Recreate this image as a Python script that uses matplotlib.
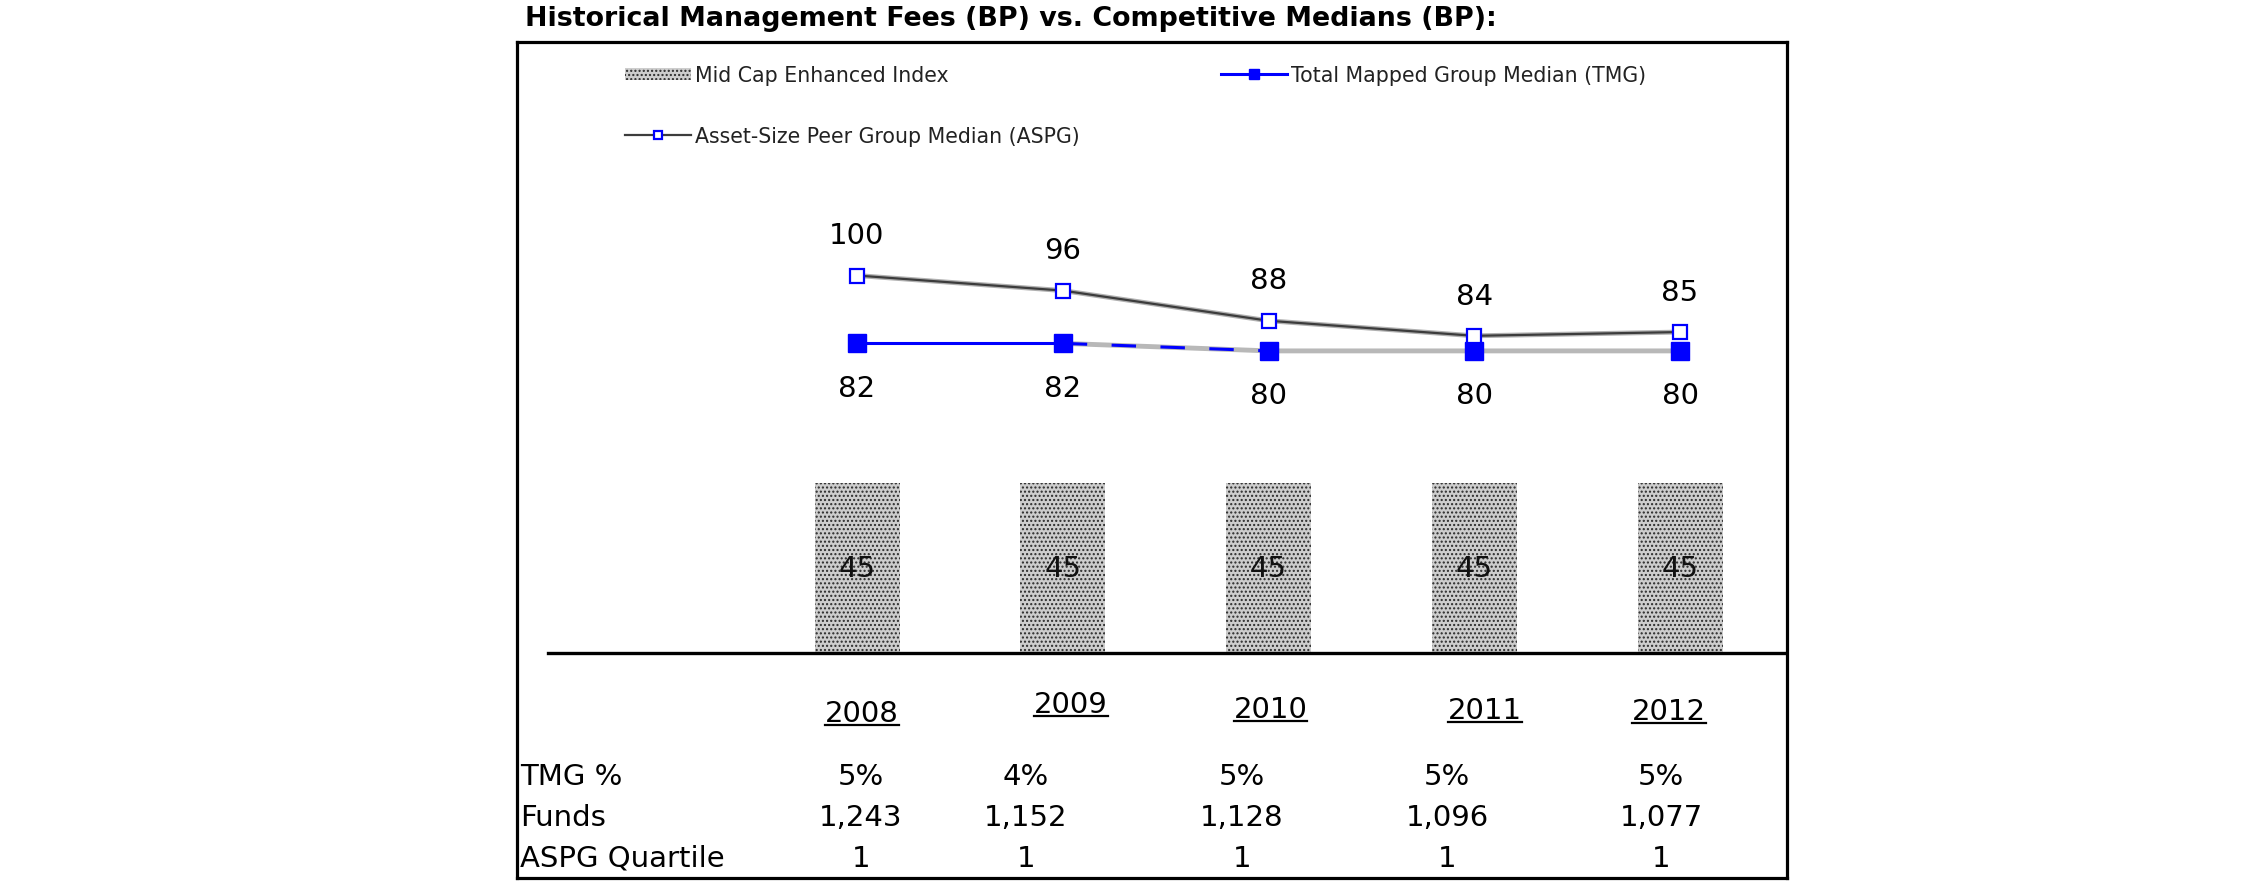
"""Historical management fees vs competitive medians (BP) -> out.png"""

import matplotlib
matplotlib.use("Agg")
import matplotlib.pyplot as plt
from matplotlib.lines import Line2D
from matplotlib.transforms import IdentityTransform, blended_transform_factory
import numpy as np

plt.rcParams["font.family"] = ["DejaVu Sans"]
plt.rcParams["hatch.linewidth"] = 1.0

# ── Data ──────────────────────────────────────────────────────────────
YEARS = ["2008", "2009", "2010", "2011", "2012"]
INDEX_FEE = [45, 45, 45, 45, 45]          # Mid Cap Enhanced Index
TMG_MEDIAN = [82, 82, 80, 80, 80]         # Total Mapped Group Median
ASPG_MEDIAN = [100, 96, 88, 84, 85]       # Asset-Size Peer Group Median
TMG_PCT = ["5%", "4%", "5%", "5%", "5%"]
FUNDS = ["1,243", "1,152", "1,128", "1,096", "1,077"]
ASPG_QUARTILE = ["1", "1", "1", "1", "1"]
ROW_LABELS = ["TMG %", "Funds", "ASPG Quartile"]

TITLE = "Historical Management Fees (BP) vs. Competitive Medians (BP):"

# ── Layout (pixels of the 2250x895 canvas) ────────────────────────────
W, H = 2250, 895
BOX = (517, 43, 1787, 879)            # left, top, right, bottom
X0_PX, DX_PX = 857, 205.75            # first category, spacing
Y0_PX, DY_PX = 653.5, 3.77            # value 0, px per BP
YEAR_Y_PX = [714, 705, 710, 711, 712]
YEAR_DX_PX = [5, 8, 2, 11, -11]
COL_X_PX = [861, 1026, 1242, 1447, 1661]
ROW_Y_PX = [777, 818, 859]

BLUE = "#0000ff"
FS_NUM = 21


def fx(px):
    return px / W


def fy(py):
    return 1 - py / H


fig = plt.figure(figsize=(W / 100, H / 100), dpi=100)
l, t, r, b = BOX
ax = fig.add_axes([fx(l), fy(b), (r - l) / W, (b - t) / H])
ax.set_xlim((l - X0_PX) / DX_PX, (r - X0_PX) / DX_PX)
ax.set_ylim((Y0_PX - b) / DY_PX, (Y0_PX - t) / DY_PX)
ax.set_xticks([])
ax.set_yticks([])
for s in ax.spines.values():
    s.set_linewidth(2.3)

x = np.arange(len(YEARS))

# bars
bars = ax.bar(x, INDEX_FEE, width=85 / DX_PX, color="#cdcdcd", edgecolor="#2a2a2a",
              hatch="....", linewidth=0, zorder=2, label="Mid Cap Enhanced Index")
ax.bar_label(bars, label_type="center", fontsize=FS_NUM, color="#111111")
ax.axhline(0, xmin=(548 - l) / (r - l), xmax=(1784 - l) / (r - l),
           color="black", linewidth=2.4, zorder=3)

# TMG line (blue, then grey underlay as in the source)
ax.plot(x[1:], TMG_MEDIAN[1:], color="#b8b8b8", linewidth=3.5, zorder=3)
ax.plot(x[:2], TMG_MEDIAN[:2], color=BLUE, linewidth=2.2, zorder=4)
ax.plot(x[1:3], TMG_MEDIAN[1:3], color=BLUE, linewidth=2.2, dashes=(8, 8), zorder=4)
ax.plot(x, TMG_MEDIAN, linestyle="none", marker="s", markersize=13,
        color=BLUE, zorder=5)

# ASPG line
ax.plot(x, ASPG_MEDIAN, color="#b0b0b0", linewidth=3.5, zorder=5)
ax.plot(x, ASPG_MEDIAN, color="#3c3c3c", linewidth=1.6, marker="s", markersize=10.5,
        markerfacecolor="white", markeredgecolor=BLUE, markeredgewidth=1.6, zorder=6)

for xi, v in zip(x, ASPG_MEDIAN):
    ax.annotate(f"{v}", (xi, v), xytext=(0, 29), textcoords="offset points",
                ha="center", va="center", fontsize=FS_NUM)
for xi, v in zip(x, TMG_MEDIAN):
    ax.annotate(f"{v}", (xi, v), xytext=(0, -32), textcoords="offset points",
                ha="center", va="center", fontsize=FS_NUM)

# legend
h_bar = bars
h_aspg = Line2D([], [], color="#3c3c3c", linewidth=1.6, marker="s", markersize=10.5,
                markerfacecolor="white", markeredgecolor=BLUE, markeredgewidth=1.6)
h_tmg = Line2D([], [], color=BLUE, linewidth=2.2, marker="s", markersize=13)
leg_kw = dict(loc="upper left", frameon=False, fontsize=14.8, borderpad=0,
              borderaxespad=0, handlelength=3.2, handletextpad=0.2,
              handleheight=0.55, labelspacing=2.0, markerscale=0.6,
              labelcolor="#222222")
leg1 = fig.legend([h_bar, h_aspg], ["Mid Cap Enhanced Index",
                                    "Asset-Size Peer Group Median (ASPG)"],
                  bbox_to_anchor=(fx(625), fy(66)), **leg_kw)
leg2 = fig.legend([h_tmg], ["Total Mapped Group Median (TMG)"],
                  bbox_to_anchor=(fx(1221), fy(66)), **leg_kw)

# title
fig.text(fx(525), fy(19), TITLE, fontsize=19.4, fontweight="bold",
         ha="left", va="center")

# year labels (underlined)
yr_tr = blended_transform_factory(ax.transData, fig.transFigure)
year_texts = []
for xi, yr, dx, yy in zip(x, YEARS, YEAR_DX_PX, YEAR_Y_PX):
    year_texts.append(ax.text(xi + dx / DX_PX, fy(yy), yr, transform=yr_tr,
                              ha="center", va="center", fontsize=FS_NUM))

# table under the chart
for lab, yy in zip(ROW_LABELS, ROW_Y_PX):
    fig.text(fx(520), fy(yy), lab, ha="left", va="center", fontsize=FS_NUM)
for vals, yy in zip([TMG_PCT, FUNDS, ASPG_QUARTILE], ROW_Y_PX):
    for xc, v in zip(COL_X_PX, vals):
        fig.text(fx(xc), fy(yy), v, ha="center", va="center", fontsize=FS_NUM)

fig.canvas.draw()
renderer = fig.canvas.get_renderer()
for txt in year_texts:
    bb = txt.get_window_extent(renderer)
    fig.add_artist(Line2D([bb.x0, bb.x1], [bb.y0 + 2, bb.y0 + 2],
                          transform=IdentityTransform(), color="black", linewidth=1.6))

fig.savefig("out.png", dpi=100)
